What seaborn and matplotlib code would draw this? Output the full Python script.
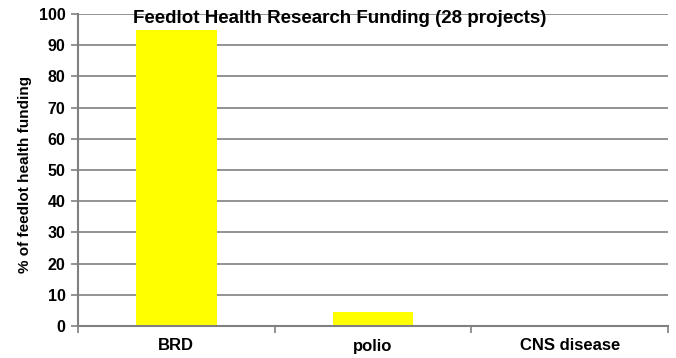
import matplotlib
matplotlib.use("Agg")
import matplotlib.pyplot as plt
import seaborn as sns
import pandas as pd
from matplotlib.ticker import FixedLocator

categories = ["BRD", "polio", "CNS disease"]
funding_pct = [95, 4.5, 0.3]
y_ticks = [0, 10, 20, 30, 40, 50, 60, 70, 80, 90, 100]

sns.set_theme(style="white")
plt.rcParams["font.family"] = ["Liberation Sans", "DejaVu Sans"]
plt.rcParams["font.weight"] = "bold"
plt.rcParams["text.color"] = "black"
plt.rcParams["axes.labelcolor"] = "black"
plt.rcParams["xtick.color"] = "black"
plt.rcParams["ytick.color"] = "black"

df = pd.DataFrame({"category": categories, "pct": funding_pct})

fig = plt.figure(figsize=(6.76, 3.58), dpi=100)
ax = fig.add_axes([78 / 676, 32 / 358, 590 / 676, 312 / 358])

sns.barplot(data=df, x="category", y="pct", color="#ffff00", width=0.41,
            saturation=1, ax=ax, edgecolor="none")

ax.set_xlim(-0.5, 2.5)
ax.set_ylim(0, 100)
ax.set_yticks(y_ticks)
ax.yaxis.grid(True, color="#808080", linewidth=1.2)
ax.set_axisbelow(True)

for side in ["top", "right"]:
    ax.spines[side].set_visible(False)
for side in ["left", "bottom"]:
    ax.spines[side].set_color("#808080")
    ax.spines[side].set_linewidth(1.5)

ax.tick_params(axis="y", which="major", direction="out", length=5, width=1.2,
               color="#808080", labelcolor="black", labelsize=11.5, pad=4,
               left=True)
ax.tick_params(axis="x", which="major", length=0, labelsize=12,
               labelcolor="black", pad=9)
ax.xaxis.set_minor_locator(FixedLocator([-0.5, 0.5, 1.5, 2.5]))
ax.tick_params(axis="x", which="minor", direction="out", length=5, width=1.2,
               color="#808080", bottom=True)
for lbl in ax.get_xticklabels() + ax.get_yticklabels():
    lbl.set_fontweight("bold")

ax.set_xlabel("")
ax.set_ylabel("% of feedlot health funding", fontsize=11, fontweight="bold",
              color="black", labelpad=5)
ax.yaxis.label.set_y(0.485)

ax.text(0.444, 98.7, "Feedlot Health Research Funding (28 projects)",
        transform=ax.get_yaxis_transform(),
        ha="center", va="center", fontsize=13.5, fontweight="bold",
        color="black")

fig.savefig("out.png", dpi=100)
